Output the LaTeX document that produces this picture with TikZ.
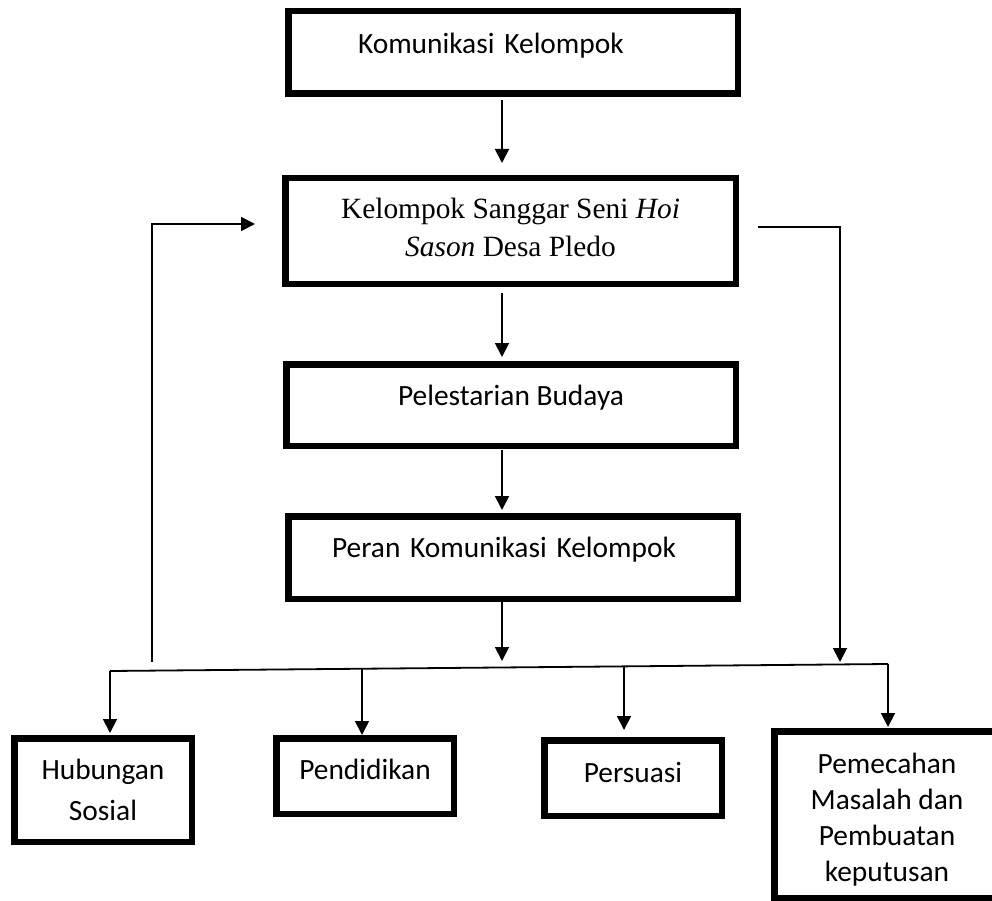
\documentclass[tikz,border=0pt]{standalone}
\usepackage{fontspec}
\setmainfont{Carlito}
\newfontfamily\timesfont{Liberation Serif}
\usetikzlibrary{arrows.meta}
\tikzset{
  kotak/.style={draw, line width=6.5pt, outer sep=3.25pt, inner sep=0pt,
    font=\fontsize{29.4}{41}\selectfont, text height=20pt},
  panah/.style={line width=1.8pt, -{Triangle[length=14pt,width=14pt]}},
  garis/.style={line width=1.8pt}
}
\begin{document}
\begin{tikzpicture}[x=1pt,y=-1pt]
\useasboundingbox (0,0) rectangle (992,901);
\clip (0,0) rectangle (992,901);
\node[kotak, minimum width=449.5pt, minimum height=82.5pt, text width=310pt, align=left, text depth=18.6pt] (komunikasi) at (513,52.5) {Komunikasi Kelompok};
\node[kotak, minimum width=450.5pt, minimum height=105.5pt, align=center, font=\timesfont\fontsize{29.4}{38}\selectfont, text height=58pt, text depth=7pt] (sanggar) at (510.5,231) {Kelompok Sanggar Seni \textit{Hoi}\\\textit{Sason} Desa Pledo};
\node[kotak, minimum width=449.5pt, minimum height=81.5pt, text depth=18.6pt] (lestari) at (511,405) {Pelestarian Budaya};
\node[kotak, minimum width=449.5pt, minimum height=82.5pt, text width=362pt, align=left, text depth=19.6pt] (peran) at (513,557.5) {Peran Komunikasi Kelompok};
\node[kotak, minimum width=177.5pt, minimum height=103.5pt, align=center, text height=65pt, text depth=3.2pt] (hubungan) at (103,790) {Hubungan\\Sosial};
\node[kotak, minimum width=177.5pt, minimum height=75.5pt, text depth=12.4pt] (pendidikan) at (365,776) {Pendidikan};
\node[kotak, minimum width=177.5pt, minimum height=75.5pt, text depth=11.6pt] (persuasi) at (633,778) {Persuasi};
\node[kotak, minimum width=225.5pt, minimum height=166.5pt, align=center, font=\fontsize{29.4}{36}\selectfont, text height=136pt, text depth=2.2pt] (pemecahan) at (887,814.5) {Pemecahan\\Masalah dan\\Pembuatan\\keputusan};
\coordinate (sumbu) at (502,661);
\coordinate (gk) at (110,671);
\coordinate (gn) at (888,664);
\coordinate (c2) at (362,668.7);
\coordinate (c3) at (624,666.4);
\coordinate (ukiri) at (152,662);
\coordinate (ukanan) at (840,662);
\draw[panah, shorten <=3pt, shorten >=12pt] (komunikasi.south -| sumbu) -- (sanggar.north -| sumbu);
\draw[panah, shorten <=6pt, shorten >=4pt] (sanggar.south -| sumbu) -- (lestari.north -| sumbu);
\draw[panah, shorten <=1pt, shorten >=3pt] (lestari.south -| sumbu) -- (peran.north -| sumbu);
\draw[panah] (peran.south -| sumbu) -- (sumbu);
\draw[garis] (gn) -- (gk);
\draw[panah, shorten >=2pt] (gk) -- (gk |- hubungan.north);
\draw[panah] (c2) -- (c2 |- pendidikan.north);
\draw[panah, shorten >=7pt] (c3) -- (c3 |- persuasi.north);
\draw[panah, shorten >=1pt] (gn) -- (gn |- pemecahan.north);
\draw[panah, shorten >=27pt] (ukiri) |- ([yshift=7pt]sanggar.west);
\draw[panah, shorten <=19pt] ([yshift=4pt]sanggar.east) -| (ukanan);
\end{tikzpicture}
\end{document}
